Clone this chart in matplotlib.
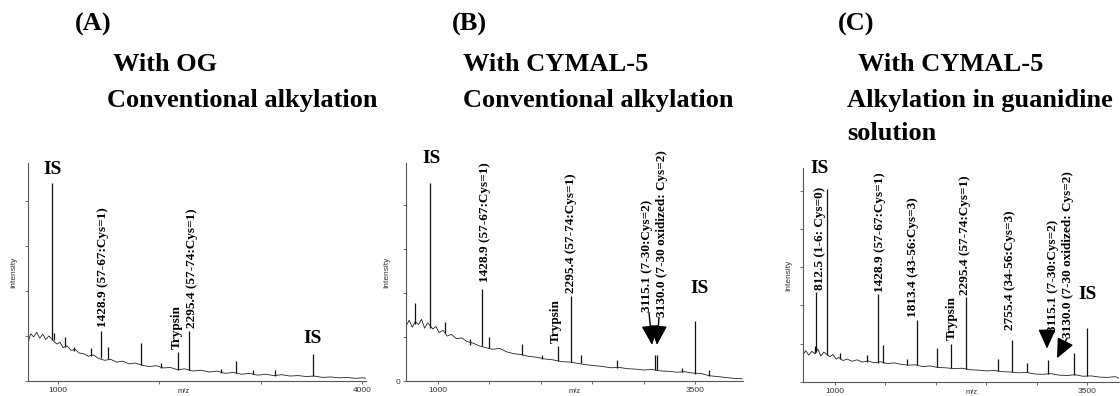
import numpy as np
import matplotlib
matplotlib.use("Agg")
import matplotlib.pyplot as plt

# ---- data (m/z, relative intensity) ----
# panel A: with OG, conventional alkylation
a_base_mz = [704, 730, 760, 790, 820, 850, 880, 910, 960, 990,
             1020, 1050, 1090, 1130, 1170, 1210, 1260, 1300, 1350, 1400,
             1460, 1520, 1580, 1640, 1700, 1760, 1830, 1900, 1970, 2040,
             2110, 2180, 2250, 2330, 2410, 2490, 2570, 2650, 2730, 2810,
             2890, 2970, 3050, 3130, 3210, 3290, 3370, 3450, 3530, 3610,
             3690, 3770, 3850, 3930, 4010, 4040]
a_base_int = [0.85, 1.05, 0.98, 1.08, 0.95, 1.04, 0.92, 1.0, 0.88, 0.82,
              0.86, 0.74, 0.78, 0.68, 0.7, 0.62, 0.6, 0.55, 0.58, 0.5,
              0.46, 0.48, 0.42, 0.44, 0.38, 0.4, 0.35, 0.32, 0.34, 0.29,
              0.3, 0.25, 0.27, 0.22, 0.24, 0.2, 0.22, 0.17, 0.19, 0.15,
              0.17, 0.13, 0.15, 0.12, 0.14, 0.11, 0.12, 0.1, 0.11, 0.08,
              0.09, 0.07, 0.08, 0.06, 0.07, 0.06]
a_peak_mz = [940, 960, 1070, 1160, 1329, 1428.9, 1490, 1822, 2020, 2184, 2295.4, 2610, 2760, 2924, 3138, 3517]
a_peak_foot = [0.9, 0.9, 0.75, 0.66, 0.56, 0.5, 0.49, 0.36, 0.29, 0.25, 0.25, 0.18, 0.17, 0.15, 0.12, 0.1]
a_peak_top = [4.39, 1.06, 0.98, 0.76, 0.73, 1.1, 0.76, 0.85, 0.39, 0.65, 1.1, 0.26, 0.44, 0.25, 0.24, 0.6]

# panel B: with CYMAL-5, conventional alkylation
b_base_mz = [690, 720, 750, 780, 810, 840, 870, 900, 950, 980,
             1010, 1050, 1090, 1130, 1180, 1230, 1280, 1340, 1400, 1460,
             1530, 1600, 1670, 1740, 1810, 1880, 1960, 2040, 2120, 2200,
             2280, 2360, 2440, 2520, 2600, 2680, 2760, 2840, 2920, 3000,
             3080, 3160, 3240, 3320, 3400, 3480, 3560, 3640, 3720, 3800,
             3880, 3960]
b_base_int = [1.25, 1.38, 1.22, 1.35, 1.28, 1.4, 1.2, 1.32, 1.18, 1.24,
              1.1, 1.15, 1.02, 1.06, 0.96, 0.98, 0.9, 0.86, 0.8, 0.76,
              0.72, 0.74, 0.66, 0.62, 0.6, 0.56, 0.54, 0.5, 0.48, 0.44,
              0.43, 0.4, 0.37, 0.35, 0.33, 0.3, 0.31, 0.28, 0.27, 0.25,
              0.26, 0.23, 0.22, 0.2, 0.21, 0.18, 0.17, 0.12, 0.1, 0.08,
              0.06, 0.05]
b_peak_mz = [780, 925, 1071, 1315, 1428.9, 1493, 1817, 2012, 2164, 2295.4, 2394, 2741, 3115.1, 3130.0, 3373, 3503, 3633]
b_peak_foot = [1.3, 1.2, 1.1, 0.82, 0.8, 0.76, 0.6, 0.5, 0.45, 0.43, 0.4, 0.3, 0.24, 0.24, 0.2, 0.17, 0.12]
b_peak_top = [1.77, 4.49, 1.35, 0.95, 2.1, 1.0, 0.85, 0.6, 0.8, 1.94, 0.6, 0.48, 0.59, 0.59, 0.3, 1.36, 0.25]

# panel C: with CYMAL-5, alkylation in guanidine solution
c_base_mz = [686, 710, 740, 770, 800, 830, 860, 890, 950, 980,
             1010, 1040, 1080, 1120, 1170, 1220, 1270, 1330, 1390, 1450,
             1520, 1590, 1660, 1730, 1800, 1870, 1940, 2020, 2100, 2180,
             2260, 2340, 2420, 2500, 2580, 2660, 2740, 2820, 2900, 2980,
             3060, 3140, 3220, 3300, 3380, 3460, 3540, 3620, 3700, 3780,
             3815]
c_base_int = [0.72, 0.82, 0.7, 0.8, 0.74, 0.86, 0.68, 0.78, 0.66, 0.72,
              0.6, 0.64, 0.56, 0.6, 0.54, 0.58, 0.52, 0.55, 0.5, 0.53,
              0.48, 0.5, 0.46, 0.44, 0.45, 0.4, 0.42, 0.38, 0.37, 0.35,
              0.36, 0.32, 0.31, 0.29, 0.3, 0.27, 0.26, 0.24, 0.25, 0.21,
              0.2, 0.22, 0.18, 0.17, 0.19, 0.15, 0.16, 0.13, 0.12, 0.14,
              0.1]
c_peak_mz = [802, 812.5, 924, 1050, 1314, 1428.9, 1480, 1711, 1813.4, 2009, 2151, 2295.4, 2620, 2755.4, 2901, 3115.1, 3371, 3500]
c_peak_foot = [0.75, 0.78, 0.7, 0.6, 0.52, 0.5, 0.5, 0.45, 0.45, 0.38, 0.36, 0.35, 0.28, 0.27, 0.25, 0.22, 0.18, 0.15]
c_peak_top = [0.95, 2.34, 5.03, 0.75, 0.7, 2.3, 0.97, 0.6, 1.63, 0.89, 0.99, 2.23, 0.6, 1.1, 0.5, 0.57, 0.76, 1.41]

titles = [["(A)", "With OG", "Conventional alkylation"],
          ["(B)", "With CYMAL-5", "Conventional alkylation"],
          ["(C)", "With CYMAL-5", "Alkylation in guanidine", "solution"]]

W, H = 1120, 396
fig = plt.figure(figsize=(W / 100, H / 100), dpi=100)

serif = "Liberation Serif"
sans = "Liberation Sans"


def add_ax(left, right, bottom, top):
    return fig.add_axes([left / W, 1 - bottom / H, (right - left) / W, (bottom - top) / H])


def draw_panel(ax, bmz, bint, pmz, pfoot, ptop, xlim, ylim, xticks, xlabels, yticks, ylabels, mz_x):
    ax.plot(bmz, bint, color="#222222", lw=0.6)
    ax.vlines(pmz, pfoot, ptop, color="#111111", lw=0.9)
    ax.set_xlim(*xlim)
    ax.set_ylim(*ylim)
    for s in ["top", "right"]:
        ax.spines[s].set_visible(False)
    for s in ["left", "bottom"]:
        ax.spines[s].set_color("#555555")
        ax.spines[s].set_linewidth(0.8)
    ax.set_xticks(xticks)
    ax.set_xticklabels(xlabels, fontsize=6, family=sans, color="#333333")
    ax.set_yticks(yticks)
    ax.set_yticklabels(ylabels, fontsize=6, family=sans, color="#333333")
    ax.tick_params(axis="both", length=2.5, width=0.6, color="#555555", pad=1.5)
    ax.set_xlabel("m/z", fontsize=5.5, family=sans, color="#333333")
    ax.xaxis.set_label_coords(mz_x, -0.033)
    ax.set_ylabel("Intensity", fontsize=6, family=sans, color="#333333", labelpad=4)


def peak_label(ax, x, y, s, size=9.5):
    ax.text(x, y, s, rotation=90, ha="center", va="bottom", family=serif,
            fontweight="bold", fontsize=size)


def is_label(ax, x, y):
    ax.text(x, y, "IS", ha="center", va="bottom", family=serif, fontweight="bold", fontsize=14)


def arrow(ax, tail, tip):
    ax.annotate("", xy=tip, xytext=tail,
                arrowprops=dict(arrowstyle="-|>,head_width=0.45,head_length=1.0",
                                color="k", lw=1.0, mutation_scale=12,
                                shrinkA=0, shrinkB=0))


# panel A
axA = add_ax(28, 366, 381, 163)
draw_panel(axA, a_base_mz, a_base_int, a_peak_mz, a_peak_foot, a_peak_top,
           (704, 4040), (0, 4.84), [1000, 2000, 3000, 4000], ["1000", "", "", "4000"],
           [0, 1, 2, 3, 4], ["", "", "", "", ""], 0.46)
is_label(axA, 951, 4.5)
peak_label(axA, 1444, 1.2, "1428.9 (57-67:Cys=1)")
peak_label(axA, 2175, 0.71, "Trypsin")
peak_label(axA, 2323, 1.17, "2295.4 (57-74:Cys=1)")
is_label(axA, 3517, 0.76)

# panel B
axB = add_ax(406, 743, 381, 163)
draw_panel(axB, b_base_mz, b_base_int, b_peak_mz, b_peak_foot, b_peak_top,
           (689, 3967), (0, 4.95), [1000, 1500, 2000, 2500, 3000, 3500],
           ["1000", "", "", "", "", "3500"],
           [0, 1, 2, 3, 4], ["0", "", "", "", ""], 0.5)
is_label(axB, 942, 4.86)
peak_label(axB, 1457, 2.25, "1428.9 (57-67:Cys=1)")
peak_label(axB, 2148, 0.86, "Trypsin")
peak_label(axB, 2294, 2.0, "2295.4 (57-74:Cys=1)")
peak_label(axB, 3033, 1.57, "3115.1 (7-30:Cys=2)")
peak_label(axB, 3179, 1.45, "3130.0 (7-30 oxidized: Cys=2)")
arrow(axB, (3053, 1.55), (3082, 0.82))
arrow(axB, (3150, 1.45), (3130, 0.82))
is_label(axB, 3549, 1.9)

# panel C
axC = add_ax(803, 1119, 382, 168)
draw_panel(axC, c_base_mz, c_base_int, c_peak_mz, c_peak_foot, c_peak_top,
           (683, 3817), (0, 5.59), [1000, 1500, 2000, 2500, 3000, 3500],
           ["1000", "", "", "", "", "3500"],
           [0, 1, 2, 3, 4, 5], ["", "", "", "", "", ""], 0.535)
is_label(axC, 851, 5.36)
peak_label(axC, 851, 2.4, "812.5 (1-6: Cys=0)")
peak_label(axC, 1446, 2.35, "1428.9 (57-67:Cys=1)")
peak_label(axC, 1777, 1.7, "1813.4 (43-56:Cys=3)")
peak_label(axC, 2157, 1.1, "Trypsin")
peak_label(axC, 2290, 2.27, "2295.4 (57-74:Cys=1)")
peak_label(axC, 2736, 1.36, "2755.4 (34-56:Cys=3)")
peak_label(axC, 3166, 1.31, "3115.1 (7-30:Cys=2)")
peak_label(axC, 3315, 1.15, "3130.0 (7-30 oxidized: Cys=2)")
arrow(axC, (3103, 1.36), (3103, 0.87))
arrow(axC, (3302, 1.15), (3202, 0.62))
is_label(axC, 3510, 2.06)

# panel headings
heading_x = [[75, 113, 107], [452, 463, 463], [838, 858, 847, 847]]
heading_y = [31, 71, 107, 140]
for lines, xs in zip(titles, heading_x):
    for txt, x, y in zip(lines, xs, heading_y):
        fig.text(x / W, 1 - y / H, txt, ha="left", va="baseline", family=serif,
                 fontweight="bold", fontsize=19)

fig.savefig("out.png", dpi=100)
